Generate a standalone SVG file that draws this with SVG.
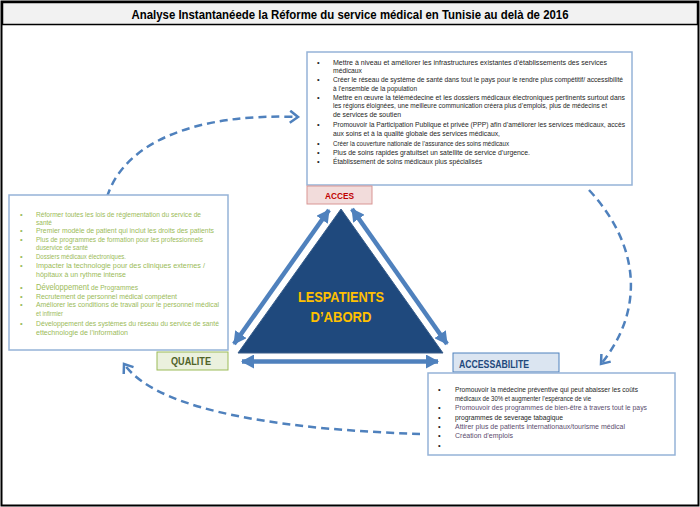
<svg xmlns="http://www.w3.org/2000/svg" width="700" height="507" viewBox="0 0 700 507">
<style>
.t{font-family:"Liberation Sans",Arial,sans-serif;font-size:7.5px;}
.dk{fill:#262626;}
.gr{fill:#9bbb59;}
.pu{fill:#5b4c6e;}
.lbl{font-family:"Liberation Sans",Arial,sans-serif;font-weight:bold;}
.box{fill:#fff;stroke:#95b3d7;stroke-width:1.5;}
.dash{fill:none;stroke:#4f81bd;stroke-width:2.5;stroke-dasharray:8 5;}
.solid{fill:none;stroke:#4f81bd;stroke-width:4.5;}
</style>
<defs>
<marker id="chev" markerUnits="userSpaceOnUse" markerWidth="14" markerHeight="14" refX="10" refY="7" orient="auto">
<path d="M2,1 L10,7 L2,13" fill="none" stroke="#4f81bd" stroke-width="2.5"/>
</marker>
<marker id="blk" markerUnits="userSpaceOnUse" markerWidth="14" markerHeight="14" refX="12" refY="7" orient="auto-start-reverse">
<path d="M0,0 L13,7 L0,14 Z" fill="#4f81bd"/>
</marker>
</defs>
<rect x="0" y="0" width="700" height="507" fill="#fff"/>
<g id="frame">
<rect x="1.5" y="1.5" width="697" height="504" fill="#fff" stroke="#000" stroke-width="2"/>
</g>
<g id="title">
<rect x="2.5" y="2.5" width="695" height="22" fill="#f2f2f2" stroke="#000" stroke-width="1.5"/>
<text x="350" y="19" text-anchor="middle" class="lbl" font-size="12.5" fill="#000" textLength="437" lengthAdjust="spacingAndGlyphs">Analyse Instantanéede la Réforme du service médical en Tunisie au delà de 2016</text>
</g>

<g id="connectors">
<path class="dash" d="M107,197 C125,140 200,113 298,117" marker-end="url(#chev)"/>
<path class="dash" d="M589,190 C640,245 645,310 601,364" marker-end="url(#chev)"/>
<path class="dash" d="M420,434 C300,430 160,415 124,364" marker-end="url(#chev)"/>
<path class="solid" d="M234,344 L329,210" marker-start="url(#blk)" marker-end="url(#blk)"/>
<path class="solid" d="M352,209 L447,344" marker-start="url(#blk)" marker-end="url(#blk)"/>
<path class="solid" d="M242,361.5 L438,361.5" marker-start="url(#blk)" marker-end="url(#blk)"/>
</g>

<g id="acces-box">
<rect class="box" x="307" y="52" width="325" height="133"/>
<g class="t dk">
<text x="317" y="64.5">•</text><text x="333" y="64.5" textLength="274" lengthAdjust="spacingAndGlyphs">Mettre à niveau et améliorer les infrastructures existantes d’établissements des services</text>
<text x="333" y="73" textLength="29" lengthAdjust="spacingAndGlyphs">médicaux</text>
<text x="317" y="82">•</text><text x="333" y="82" textLength="290" lengthAdjust="spacingAndGlyphs">Créer le réseau de système de santé dans tout le pays pour le rendre plus compétitif/ accessibilité</text>
<text x="333" y="90.5" textLength="84" lengthAdjust="spacingAndGlyphs">à l’ensemble de la population</text>
<text x="317" y="99.5">•</text><text x="333" y="99.5" textLength="292" lengthAdjust="spacingAndGlyphs">Mettre en œuvre la télémédecine et les dossiers médicaux électroniques pertinents surtout dans</text>
<text x="333" y="108" textLength="274" lengthAdjust="spacingAndGlyphs">les régions éloignées, une meilleure communication créera plus d’emplois, plus de médecins et</text>
<text x="333" y="117" textLength="68" lengthAdjust="spacingAndGlyphs">de services de soutien</text>
<text x="317" y="127">•</text><text x="333" y="127" textLength="292" lengthAdjust="spacingAndGlyphs">Promouvoir la Participation Publique et privée (PPP) afin d’améliorer les services médicaux, accès</text>
<text x="333" y="136" textLength="167" lengthAdjust="spacingAndGlyphs">aux soins et à la qualité globale des services médicaux,</text>
<text x="317" y="145.5">•</text><text x="333" y="145.5" textLength="176" lengthAdjust="spacingAndGlyphs">Créer la couverture nationale de l’assurance des soins médicaux</text>
<text x="317" y="154.5">•</text><text x="333" y="154.5" textLength="197" lengthAdjust="spacingAndGlyphs">Plus de soins  rapides gratuitset un satellite de service  d’urgence.</text>
<text x="317" y="164">•</text><text x="333" y="164" textLength="149" lengthAdjust="spacingAndGlyphs">Établissement de soins  médicaux plus spécialisés</text>
</g>
</g>

<g id="acces-label">
<rect x="307" y="186" width="65" height="18" fill="#f2dcdb" stroke="#d99694" stroke-width="1"/>
<text x="339.5" y="198.5" text-anchor="middle" class="lbl" font-size="9" fill="#c00000" textLength="29" lengthAdjust="spacingAndGlyphs">ACCES</text>
</g>

<g id="triangle">
<polygon points="341,209 238,353 443,353" fill="#1f497d" stroke="#385d8a" stroke-width="1"/>
<text x="341" y="302" text-anchor="middle" class="lbl" font-size="15" fill="#ffc000" textLength="86" lengthAdjust="spacingAndGlyphs">LESPATIENTS</text>
<text x="341" y="322" text-anchor="middle" class="lbl" font-size="15" fill="#ffc000" textLength="61" lengthAdjust="spacingAndGlyphs">D’ABORD</text>
</g>

<g id="qualite-box">
<rect class="box" x="9" y="195" width="219" height="155"/>
<g class="t gr">
<text x="20" y="216.5">•</text><text x="36" y="216.5" textLength="165" lengthAdjust="spacingAndGlyphs">Réformer  toutes les lois de réglementation du service de</text>
<text x="36" y="224.5" textLength="16" lengthAdjust="spacingAndGlyphs">santé</text>
<text x="20" y="233">•</text><text x="36" y="233" textLength="178" lengthAdjust="spacingAndGlyphs">Premier modèle de patient qui inclut les droits des patients</text>
<text x="20" y="241.5">•</text><text x="36" y="241.5" textLength="167" lengthAdjust="spacingAndGlyphs">Plus de programmes de formation pour les professionnels</text>
<text x="36" y="249.5" textLength="52" lengthAdjust="spacingAndGlyphs">duservice de santé</text>
<text x="20" y="258.5">•</text><text x="36" y="258.5" textLength="90" lengthAdjust="spacingAndGlyphs">Dossiers médicaux électroniques.</text>
<text x="20" y="267.5">•</text><text x="36" y="267.5" textLength="169" lengthAdjust="spacingAndGlyphs">Impacter la  technologie pour des cliniques externes /</text>
<text x="36" y="276.5" textLength="90" lengthAdjust="spacingAndGlyphs">hôpitaux à un rythme intense</text>
<text x="20" y="289.5">•</text><text x="36" y="289.5" font-size="8.5" textLength="53" lengthAdjust="spacingAndGlyphs">Développement</text><text x="91" y="289.5" textLength="47" lengthAdjust="spacingAndGlyphs">de Programmes</text>
<text x="20" y="298.5">•</text><text x="36" y="298.5" textLength="141" lengthAdjust="spacingAndGlyphs">Recrutement de personnel médical compétent</text>
<text x="20" y="307">•</text><text x="36" y="307" textLength="183" lengthAdjust="spacingAndGlyphs">Améliorer les conditions de travail pour le personnel médical</text>
<text x="36" y="315.5" textLength="27" lengthAdjust="spacingAndGlyphs">et infirmier</text>
<text x="20" y="325.5">•</text><text x="36" y="325.5" textLength="183" lengthAdjust="spacingAndGlyphs">Développement des systèmes du réseau du service de santé</text>
<text x="36" y="334.5" textLength="92" lengthAdjust="spacingAndGlyphs">ettechnologie de l’information</text>
</g>
</g>

<g id="qualite-label">
<rect x="157" y="352" width="71" height="18" fill="#ebf1de" stroke="#9bbb59" stroke-width="1"/>
<text x="191" y="365" text-anchor="middle" class="lbl" font-size="10.5" fill="#4f6228" textLength="40" lengthAdjust="spacingAndGlyphs">QUALITE</text>
</g>

<g id="accessabilite-label">
<rect x="453" y="353" width="106" height="19" fill="#dbe5f1" stroke="#4f81bd" stroke-width="1"/>
<text x="459" y="367.5" class="lbl" font-size="10" fill="#1f497d" textLength="70" lengthAdjust="spacingAndGlyphs">ACCESSABILITE</text>
</g>

<g id="accessabilite-box">
<rect class="box" x="428" y="373" width="247" height="82"/>
<g class="t">
<text class="dk" x="438" y="391.5">•</text><text class="dk" x="455" y="391.5" textLength="183" lengthAdjust="spacingAndGlyphs">Promouvoir la médecine préventive qui peut abaisser les coûts</text>
<text class="dk" x="455" y="400.5" textLength="136" lengthAdjust="spacingAndGlyphs">médicaux de 30% et augmenter l’espérance de vie</text>
<text class="dk" x="438" y="409.5">•</text><text class="pu" x="455" y="409.5" textLength="192" lengthAdjust="spacingAndGlyphs">Promouvoir des programmes de bien-être à travers tout le pays</text>
<text class="dk" x="438" y="419.5">•</text><text class="dk" x="455" y="419.5" textLength="108" lengthAdjust="spacingAndGlyphs">programmes de severage tabagique</text>
<text class="dk" x="438" y="428.5">•</text><text class="pu" x="455" y="428.5" textLength="170" lengthAdjust="spacingAndGlyphs">Attirer plus de patients internationaux/tourisme médical</text>
<text class="dk" x="438" y="437.5">•</text><text class="pu" x="455" y="437.5" textLength="58" lengthAdjust="spacingAndGlyphs">Création d’emplois</text>
<text class="dk" x="438" y="447.5">•</text>
</g>
</g>
</svg>
